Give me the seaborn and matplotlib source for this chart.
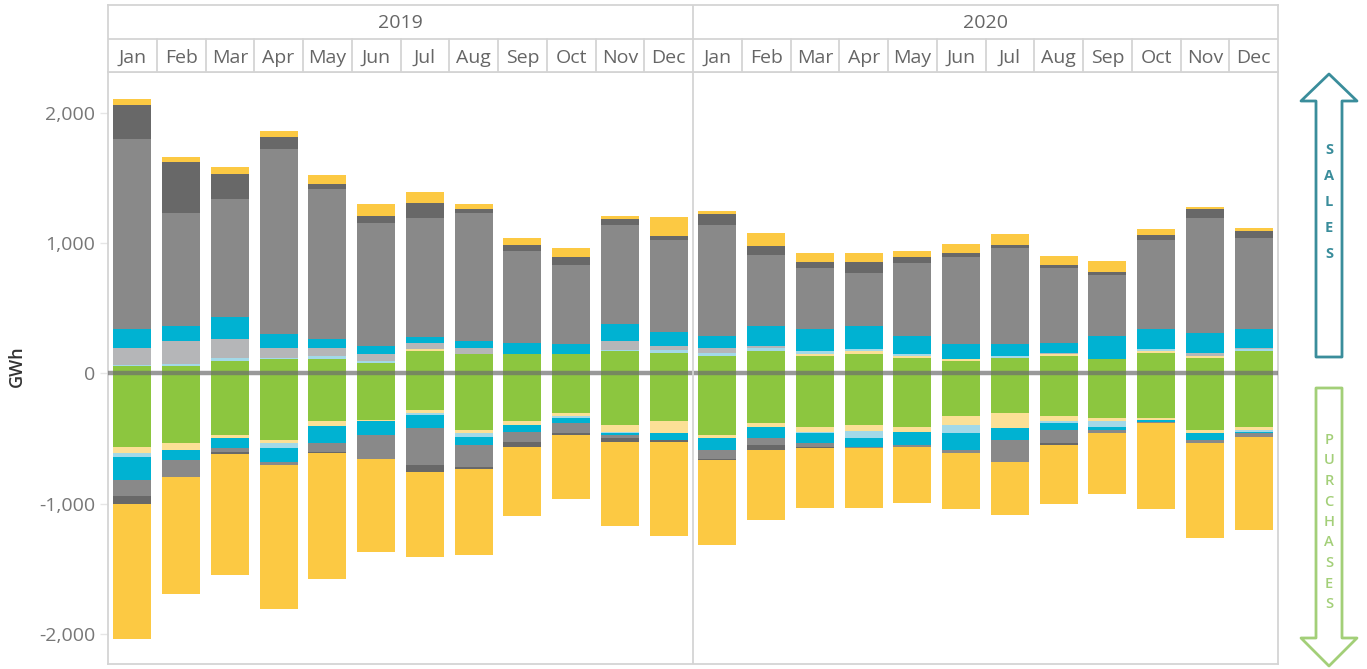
import numpy as np
import seaborn as sns
import matplotlib.pyplot as plt
from matplotlib.patches import Polygon

years = ['2019', '2020']
month_names = ['Jan', 'Feb', 'Mar', 'Apr', 'May', 'Jun',
               'Jul', 'Aug', 'Sep', 'Oct', 'Nov', 'Dec']
periods = [f'{y}-{m}' for y in years for m in month_names]

# Sales (GWh), stacked upward from zero, innermost first
sales_green = [56, 56, 95, 110, 110, 79, 169, 146, 146, 146, 169, 154,
               130, 169, 130, 146, 115, 92, 115, 130, 107, 154, 115, 169]
sales_lyellow = [0, 0, 0, 0, 0, 0, 15, 0, 0, 0, 0, 0,
                 0, 0, 15, 23, 15, 15, 0, 15, 0, 15, 15, 0]
sales_lblue = [10, 15, 23, 8, 23, 15, 0, 0, 0, 0, 8, 23,
               23, 23, 23, 15, 15, 0, 15, 0, 0, 15, 0, 15]
sales_lgray = [128, 177, 146, 77, 61, 54, 46, 46, 0, 0, 69, 31,
               38, 15, 0, 0, 0, 0, 0, 8, 0, 0, 23, 8]
sales_cyan = [146, 118, 169, 110, 69, 64, 46, 54, 84, 77, 133, 110,
              95, 156, 171, 179, 141, 118, 95, 77, 179, 156, 154, 148]
sales_gray = [1458, 865, 906, 1417, 1151, 942, 913, 982, 706, 606, 757, 703,
              849, 542, 466, 404, 558, 665, 734, 576, 466, 681, 883, 696]
sales_dkgray = [261, 391, 192, 92, 38, 54, 115, 31, 46, 61, 46, 31,
                84, 69, 46, 84, 46, 31, 23, 23, 23, 38, 69, 54]
sales_yellow = [46, 38, 54, 46, 69, 92, 84, 38, 54, 69, 23, 146,
                23, 100, 69, 69, 46, 69, 84, 69, 84, 46, 15, 23]

# Purchases (GWh), stacked downward from zero, innermost first
purch_green = [568, 537, 476, 514, 368, 361, 284, 437, 368, 307, 399, 368,
               476, 384, 414, 399, 414, 330, 307, 330, 345, 345, 437, 414]
purch_lyellow = [46, 54, 23, 23, 38, 8, 23, 23, 31, 23, 54, 92,
                 23, 31, 38, 46, 38, 69, 115, 38, 23, 15, 23, 23]
purch_lblue = [31, 0, 0, 38, 0, 0, 15, 31, 0, 15, 8, 0,
               0, 0, 8, 54, 0, 61, 0, 15, 46, 0, 0, 15]
purch_cyan = [174, 77, 77, 107, 130, 107, 95, 61, 54, 38, 15, 54,
              92, 84, 77, 69, 100, 128, 92, 54, 23, 15, 54, 8]
purch_gray = [125, 130, 31, 23, 69, 184, 289, 169, 77, 77, 23, 0,
              69, 54, 31, 8, 15, 26, 169, 100, 23, 8, 23, 31]
purch_dkgray = [61, 0, 10, 0, 8, 0, 54, 15, 38, 15, 31, 15,
                8, 38, 8, 0, 0, 0, 0, 15, 0, 0, 0, 0]
purch_yellow = [1036, 898, 934, 1105, 967, 714, 652, 660, 530, 491, 645, 721,
                652, 537, 460, 460, 430, 430, 407, 453, 468, 660, 729, 714]

GREEN, LYELLOW, LBLUE, LGRAY = '#8cc63f', '#fbe096', '#a3d9e8', '#b5b6b8'
CYAN, GRAY, DKGRAY, YELLOW = '#00b2d2', '#898989', '#686868', '#fcc943'

sales_layers = [(sales_green, GREEN), (sales_lyellow, LYELLOW), (sales_lblue, LBLUE),
                (sales_lgray, LGRAY), (sales_cyan, CYAN), (sales_gray, GRAY),
                (sales_dkgray, DKGRAY), (sales_yellow, YELLOW)]
purch_layers = [(purch_green, GREEN), (purch_lyellow, LYELLOW), (purch_lblue, LBLUE),
                (purch_cyan, CYAN), (purch_gray, GRAY), (purch_dkgray, DKGRAY),
                (purch_yellow, YELLOW)]

sns.set_theme(style='white')
plt.rcParams['font.family'] = ['Open Sans', 'DejaVu Sans']

W, H = 1367, 669
left, right, top, bottom = 108, 1278, 72, 664
border = '#d4d4d4'

fig = plt.figure(figsize=(W / 100, H / 100), dpi=100)
ax = fig.add_axes([left / W, 1 - bottom / H, (right - left) / W, (bottom - top) / H])


def draw_stack(layers, sign):
    base = np.zeros(len(periods))
    for vals, col in layers:
        v = sign * np.array(vals, dtype=float)
        sns.barplot(x=periods, y=v, bottom=base, color=col, saturation=1,
                    width=0.78, errorbar=None, linewidth=0, ax=ax)
        base = base + v


draw_stack(sales_layers, 1)
draw_stack(purch_layers, -1)

# zero line drawn over the bars
ax.axhline(0, color='#6e6e6e', alpha=0.7, lw=3.2, zorder=5)
ax.axvline(11.5, color=border, lw=1.3, zorder=6)
ax.set_xlim(-0.5, 23.5)
ax.set_ylim(-2231, 2312)
yt = [-2000, -1000, 0, 1000, 2000]
ax.set_yticks(yt)
ax.set_yticklabels([f'{v:,}' for v in yt])
ax.tick_params(axis='y', left=True, length=6, width=1, color='#e6e6e6',
               labelcolor='#777777', labelsize=14, pad=3)
ax.tick_params(axis='x', bottom=False, labelbottom=False)
ax.set_xlabel('')
ax.set_ylabel('')
for s in ax.spines.values():
    s.set_color(border)
    s.set_linewidth(1.3)

# header with years and months
hx = fig.add_axes([left / W, 1 - top / H, (right - left) / W, (top - 5) / H])
hx.set_xlim(-0.5, 23.5)
hx.set_ylim(0, 2)
hx.set_xticks([])
hx.set_yticks([])
for s in hx.spines.values():
    s.set_color(border)
    s.set_linewidth(1.3)
hx.axhline(1, color=border, lw=1.3)
for i in range(23):
    hx.axvline(i + 0.5, ymax=1.0 if i == 11 else 0.5, color=border, lw=1.3)
for j, y in enumerate(years):
    hx.text(j * 12 + 5.5, 1.45, y, ha='center', va='center', fontsize=14, color='#666666')
for i, p in enumerate(periods):
    hx.text(i, 0.42, p.split('-')[1], ha='center', va='center', fontsize=14, color='#666666')

fig.text(17 / W, 1 - 366 / H, 'GWh', rotation=90, ha='center', va='center',
         fontsize=13, fontweight='semibold', color='#333333')

# sales / purchases arrows on the right
ov = fig.add_axes([0, 0, 1, 1])
ov.set_xlim(0, W)
ov.set_ylim(H, 0)
ov.axis('off')
teal, lgreen = '#3a8d9b', '#a3cf78'
up = [(1329, 74), (1357, 101), (1342, 101), (1342, 357), (1316, 357), (1316, 101), (1301, 101)]
down = [(1316, 388), (1342, 388), (1342, 638), (1357, 638), (1329, 666), (1301, 638), (1316, 638)]
ov.add_patch(Polygon(up, closed=True, fill=False, edgecolor=teal, lw=2, joinstyle='round'))
ov.add_patch(Polygon(down, closed=True, fill=False, edgecolor=lgreen, lw=2, joinstyle='round'))
for k, ch in enumerate('SALES'):
    ov.text(1329, 150 + k * 26, ch, ha='center', va='center', fontsize=10.5,
            fontweight='bold', color=teal)
for k, ch in enumerate('PURCHASES'):
    ov.text(1329, 440 + k * 20.5, ch, ha='center', va='center', fontsize=10.5,
            fontweight='semibold', color=lgreen)

fig.savefig('out.png', dpi=100)
